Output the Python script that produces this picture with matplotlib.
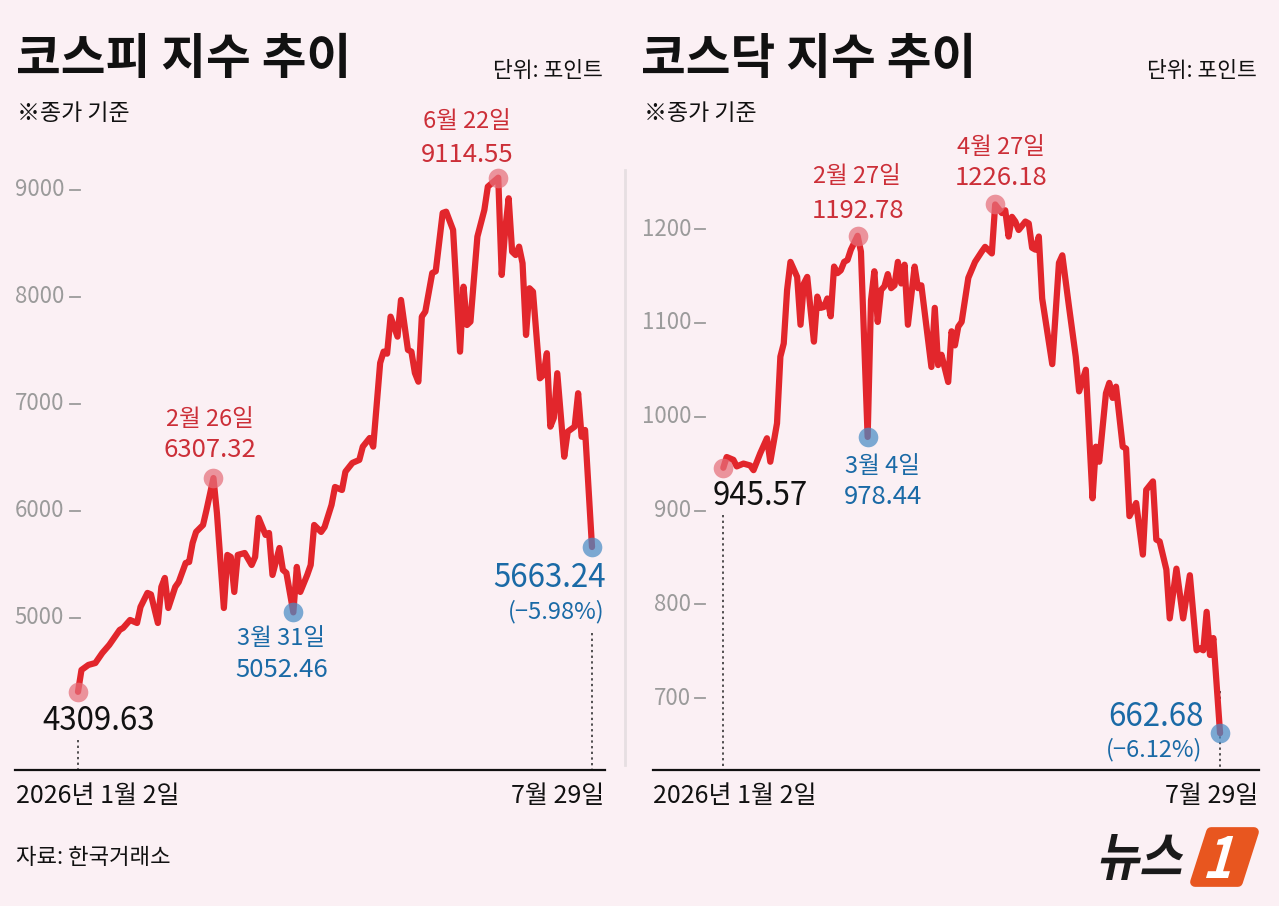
import numpy as np
import matplotlib
matplotlib.use("Agg")
import matplotlib.pyplot as plt
from matplotlib import transforms
from matplotlib.lines import Line2D
from matplotlib.patches import PathPatch, Polygon
from matplotlib.textpath import TextPath
from matplotlib.font_manager import FontProperties

plt.rcParams['font.family'] = ['Noto Sans CJK KR', 'DejaVu Sans']

BG = '#fbf0f4'
LINE_RED = '#e2262c'
TXT_RED = '#cc2f38'
TXT_BLUE = '#1a6aa6'
GRAY = '#9b9b9b'

# 코스피 종가 (2026년)
kospi_dates = ['01-02', '01-05', '01-07', '01-09', '01-13', '01-15', '01-20', '01-21', '01-23', '01-27',
               '01-28', '01-30',
               '02-02', '02-04', '02-05', '02-06', '02-09', '02-11', '02-12', '02-16', '02-17', '02-18',
               '02-19', '02-23', '02-24', '02-26', '02-27',
               '03-03', '03-04', '03-05', '03-06', '03-09', '03-11', '03-13', '03-16', '03-17', '03-19',
               '03-20', '03-23', '03-25', '03-26', '03-27', '03-31',
               '04-01', '04-02', '04-06', '04-07', '04-08', '04-10', '04-13', '04-15', '04-16', '04-20',
               '04-21', '04-23', '04-27', '04-28', '04-30',
               '05-01', '05-05', '05-06', '05-07', '05-08', '05-12', '05-13', '05-15', '05-18', '05-19',
               '05-20', '05-21', '05-22', '05-26', '05-27', '05-29',
               '06-01', '06-03', '06-05', '06-08', '06-09', '06-10', '06-12', '06-16', '06-17', '06-22',
               '06-23', '06-24', '06-25', '06-26', '06-29', '06-30',
               '07-01', '07-02', '07-03', '07-06', '07-08', '07-09', '07-10', '07-13', '07-14', '07-15',
               '07-17', '07-20', '07-22', '07-23', '07-24', '07-27', '07-29']
kospi_vals = [4309.63, 4514, 4561, 4579, 4673, 4748, 4888, 4907, 4981, 4953, 5103, 5234,
              5220, 4953, 5290, 5374, 5093, 5290, 5336, 5514, 5523, 5701, 5804, 5869, 6009, 6307.32, 5981,
              5093, 5589, 5570, 5243, 5589, 5607, 5495, 5570, 5935, 5776, 5794, 5402, 5654, 5449, 5421, 5052.46,
              5477, 5243, 5402, 5495, 5869, 5804, 5850, 6056, 6224, 6196, 6367, 6449, 6477, 6601, 6682,
              6601, 7383, 7489, 7470, 7816, 7629, 7972, 7505, 7489, 7290, 7208, 7816, 7863, 8224, 8240, 8785,
              8797, 8626, 7489, 8096, 7738, 7769, 8564, 8813, 9031, 9114.55, 8206, 8626, 8922, 8423, 8392, 8470,
              8315, 7645, 8081, 8049, 7240, 7271, 7474, 6788, 6869, 7287, 6507, 6741, 6788, 7100, 6694, 6757,
              5663.24]
kospi_ticks = [5000, 6000, 7000, 8000, 9000]

# 코스닥 종가 (2026년)
kosdaq_dates = ['01-02', '01-05', '01-07', '01-08', '01-12', '01-14', '01-15', '01-19', '01-21', '01-22',
                '01-26', '01-27', '01-28', '01-29', '01-30',
                '02-03', '02-04', '02-05', '02-06', '02-09', '02-10', '02-11', '02-12', '02-13', '02-16',
                '02-17', '02-18', '02-19', '02-20', '02-23', '02-24', '02-25', '02-27',
                '03-02', '03-04', '03-05', '03-06', '03-09', '03-10', '03-11', '03-12', '03-13', '03-16',
                '03-17', '03-18', '03-19', '03-20', '03-24', '03-25', '03-26', '03-31',
                '04-01', '04-02', '04-03', '04-07', '04-08', '04-09', '04-10', '04-13', '04-15', '04-17',
                '04-21', '04-22', '04-24', '04-27', '04-29', '04-30',
                '05-01', '05-04', '05-05', '05-06', '05-08', '05-11', '05-12', '05-13', '05-14', '05-15',
                '05-20', '05-22', '05-25', '05-27', '05-29',
                '06-01', '06-03', '06-05', '06-08', '06-09', '06-11', '06-12', '06-15', '06-16', '06-18',
                '06-19', '06-22', '06-24', '06-26', '06-29',
                '07-01', '07-02', '07-03', '07-07', '07-08', '07-10', '07-14', '07-16', '07-20', '07-21',
                '07-22', '07-23', '07-24', '07-27', '07-29']
kosdaq_vals = [945.57, 957, 954, 947, 950, 948, 943, 961, 977, 952, 993, 1064, 1078, 1135, 1165,
               1149, 1098, 1142, 1149, 1114, 1080, 1128, 1116, 1117, 1126, 1107, 1160, 1153, 1156, 1165,
               1167, 1178, 1192.78,
               1176, 978.44, 1124, 1155, 1101, 1135, 1139, 1152, 1137, 1140, 1165, 1142, 1162, 1098, 1160,
               1137, 1140, 1053,
               1116, 1055, 1066, 1037, 1091, 1076, 1096, 1101, 1148, 1165, 1176, 1181, 1174, 1226.18, 1217, 1220,
               1192, 1213, 1208, 1199, 1208, 1206, 1180, 1178, 1192, 1126, 1056, 1164, 1172, 1117, 1064,
               1027, 1050, 913, 968, 952, 1025, 1036, 1020, 1032, 968, 966, 894, 908, 853, 922,
               931, 869, 867, 837, 785, 838, 785, 831, 751, 753, 751, 792, 746, 764, 662.68]
kosdaq_ticks = [700, 800, 900, 1000, 1100, 1200]

W, H = 1279, 906
fig = plt.figure(figsize=(W / 100, H / 100), dpi=100, facecolor=BG)


def px_axes(x0, y0, x1, y1):
    ax = fig.add_axes([x0 / W, 1 - y1 / H, (x1 - x0) / W, (y1 - y0) / H])
    ax.patch.set_visible(False)
    for s in ['top', 'right', 'left']:
        ax.spines[s].set_visible(False)
    ax.spines['bottom'].set_linewidth(1.6)
    ax.spines['bottom'].set_color('#111111')
    ax.set_xticks([])
    ax.set_yticks([])
    return ax


def tday(dates):
    # 거래일 순번 (2026-01-02 = 0)
    return np.busday_count('2026-01-02', ['2026-' + d for d in dates])


def date_label(d):
    m, dd = d.split('-')
    return f'{int(m)}월 {int(dd)}일'


def ann(ax, x, y, text, dx, dy, color, size, ha='center'):
    ax.annotate(text, xy=(x, y), xytext=(dx, dy), textcoords='offset pixels',
                ha=ha, va='center', color=color, fontsize=size, zorder=6)


def draw_panel(ax, dates, vals, ticks, lab_px, dash_px):
    x = tday(dates)
    ax.plot(x, vals, color=LINE_RED, lw=4.5, solid_joinstyle='round',
            solid_capstyle='round', zorder=3)
    tr = transforms.blended_transform_factory(fig.transFigure, ax.transData)
    for t in ticks:
        ax.text(lab_px / W, t, str(t), transform=tr, ha='right', va='center',
                color=GRAY, fontsize=16)
        ax.plot([dash_px[0] / W, dash_px[1] / W], [t, t], transform=tr,
                color=GRAY, lw=1.3, clip_on=False)
    return x


def dots(ax, x, v, color):
    ax.scatter([x], [v], s=200, color=color, alpha=0.72, lw=0, zorder=4)


# ---------------- 코스피 ----------------
ax1 = px_axes(15, 160, 605, 770)
ax1.set_xlim(-18.14, 151.74)
ax1.set_ylim(3579, 9280)
kx = draw_panel(ax1, kospi_dates, kospi_vals, kospi_ticks, 64, (70, 80))

red_dot = '#e56f7a'
blue_dot = '#4a8cc6'

i0, iN = 0, len(kospi_vals) - 1
ip1 = kospi_dates.index('02-26')
ip2 = int(np.argmax(kospi_vals))
it1 = kospi_dates.index('03-31')

for i, c in [(i0, red_dot), (ip1, red_dot), (ip2, red_dot), (it1, blue_dot), (iN, blue_dot)]:
    dots(ax1, kx[i], kospi_vals[i], c)

ann(ax1, kx[ip2], kospi_vals[ip2], date_label(kospi_dates[ip2]), -31, 56, TXT_RED, 17)
ann(ax1, kx[ip2], kospi_vals[ip2], f'{kospi_vals[ip2]:.2f}', -31, 23, TXT_RED, 18.5)
ann(ax1, kx[ip1], kospi_vals[ip1], date_label(kospi_dates[ip1]), -4, 59, TXT_RED, 17)
ann(ax1, kx[ip1], kospi_vals[ip1], f'{kospi_vals[ip1]:.2f}', -4, 28, TXT_RED, 18.5)
ann(ax1, kx[it1], kospi_vals[it1], date_label(kospi_dates[it1]), -12, -26, TXT_BLUE, 17)
ann(ax1, kx[it1], kospi_vals[it1], f'{kospi_vals[it1]:.2f}', -12, -58, TXT_BLUE, 18.5)
ann(ax1, kx[i0], kospi_vals[i0], f'{kospi_vals[i0]:.2f}', 21, -29, '#111111', 22.5)
ann(ax1, kx[iN], kospi_vals[iN], f'{kospi_vals[iN]:.2f}', 14, -31, TXT_BLUE, 22.5, ha='right')
ann(ax1, kx[iN], kospi_vals[iN], '(−5.98%)', 12, -65, TXT_BLUE, 17, ha='right')

ax1.plot([kx[i0], kx[i0]], [3860, 3579], color='#222222', lw=1.1, ls=(0, (1.5, 2.2)), zorder=1)
ax1.plot([kx[iN], kx[iN]], [4860, 3579], color='#222222', lw=1.1, ls=(0, (1.5, 2.2)), zorder=1)

# ---------------- 코스닥 ----------------
ax2 = px_axes(653, 160, 1259, 770)
ax2.set_xlim(-20.95, 159.6)
ax2.set_ylim(623.4, 1273.6)
qx = draw_panel(ax2, kosdaq_dates, kosdaq_vals, kosdaq_ticks, 691, (695, 705))

j0, jN = 0, len(kosdaq_vals) - 1
jp1 = kosdaq_dates.index('02-27')
jp2 = int(np.argmax(kosdaq_vals))
jt1 = kosdaq_dates.index('03-04')

for j, c in [(j0, red_dot), (jp1, red_dot), (jp2, red_dot), (jt1, blue_dot), (jN, blue_dot)]:
    dots(ax2, qx[j], kosdaq_vals[j], c)

ann(ax2, qx[jp1], kosdaq_vals[jp1], date_label(kosdaq_dates[jp1]), -1, 59, TXT_RED, 17)
ann(ax2, qx[jp1], kosdaq_vals[jp1], f'{kosdaq_vals[jp1]:.2f}', 0, 25, TXT_RED, 18.5)
ann(ax2, qx[jp2], kosdaq_vals[jp2], date_label(kosdaq_dates[jp2]), 6, 57, TXT_RED, 17)
ann(ax2, qx[jp2], kosdaq_vals[jp2], f'{kosdaq_vals[jp2]:.2f}', 6, 26, TXT_RED, 18.5)
ann(ax2, qx[jt1], kosdaq_vals[jt1], date_label(kosdaq_dates[jt1]), 15, -30, TXT_BLUE, 17)
ann(ax2, qx[jt1], kosdaq_vals[jt1], f'{kosdaq_vals[jt1]:.2f}', 15, -60, TXT_BLUE, 18.5)
ann(ax2, qx[j0], kosdaq_vals[j0], f'{kosdaq_vals[j0]:.2f}', 37, -28, '#111111', 22.5)
ann(ax2, qx[jN], kosdaq_vals[jN], f'{kosdaq_vals[jN]:.2f}', -16, 16, TXT_BLUE, 22.5, ha='right')
ann(ax2, qx[jN], kosdaq_vals[jN], '(−6.12%)', -18, -16, TXT_BLUE, 17, ha='right')

ax2.plot([qx[j0], qx[j0]], [895, 623.4], color='#222222', lw=1.1, ls=(0, (1.5, 2.2)), zorder=1)
ax2.plot([qx[jN], qx[jN]], [708, 623.4], color='#222222', lw=1.1, ls=(0, (1.5, 2.2)), zorder=1)

# ---------------- 텍스트 ----------------
def ftext(x, y, s, ha='left', **kw):
    fig.text(x / W, 1 - y / H, s, ha=ha, va='center', **kw)


ftext(16, 60, '코스피 지수 추이', fontsize=35, weight='bold', color='#111111')
ftext(641, 60, '코스닥 지수 추이', fontsize=35, weight='bold', color='#111111')
ftext(603, 71, '단위: 포인트', ha='right', fontsize=15.5, color='#111111')
ftext(1257, 71, '단위: 포인트', ha='right', fontsize=15.5, color='#111111')
ftext(17, 114, '※종가 기준', fontsize=16.5, color='#111111')
ftext(644, 114, '※종가 기준', fontsize=16.5, color='#111111')
ftext(16, 796, '2026년 1월 2일', fontsize=18, color='#111111')
ftext(604, 796, '7월 29일', ha='right', fontsize=18, color='#111111')
ftext(653, 796, '2026년 1월 2일', fontsize=18, color='#111111')
ftext(1258, 796, '7월 29일', ha='right', fontsize=18, color='#111111')
ftext(16, 857, '자료: 한국거래소', fontsize=16, color='#111111')

fig.add_artist(Line2D([625 / W, 625 / W], [1 - 170 / H, 1 - 765 / H], color='#e6dfe2', lw=2))

# ---------------- 로고 ----------------
axl = fig.add_axes([0, 0, 1, 1])
axl.set_xlim(0, W)
axl.set_ylim(0, H)
axl.axis('off')
axl.patch.set_visible(False)


def fit_path(path, x0, x1, y0, y1, skew=0.0):
    ext = path.get_extents()
    tr = (transforms.Affine2D().translate(-ext.x0, -ext.y0)
          .scale((x1 - x0) / ext.width, (y1 - y0) / ext.height)
          .skew_deg(skew, 0)
          .translate(x0 - (y1 - y0) * np.tan(np.radians(skew)) / 2, H - y1))
    return tr.transform_path(path)


bold = FontProperties(family='Noto Sans CJK KR', weight='bold')
p = fit_path(TextPath((0, 0), '뉴스', size=50, prop=bold), 1102, 1184, 834, 880, skew=12)
axl.add_patch(PathPatch(p, color='#1a1a1a', lw=0))

badge = Polygon([(1195, H - 882), (1238, H - 882), (1254, H - 832), (1211, H - 832)],
                closed=True, facecolor='#e8561f', edgecolor='#e8561f', lw=7, joinstyle='round')
axl.add_patch(badge)
p1 = fit_path(TextPath((0, 0), '1', size=50, prop=bold), 1212, 1234, 836, 878, skew=16)
axl.add_patch(PathPatch(p1, color='white', lw=0))

fig.savefig('out.png', dpi=100, facecolor=BG)
